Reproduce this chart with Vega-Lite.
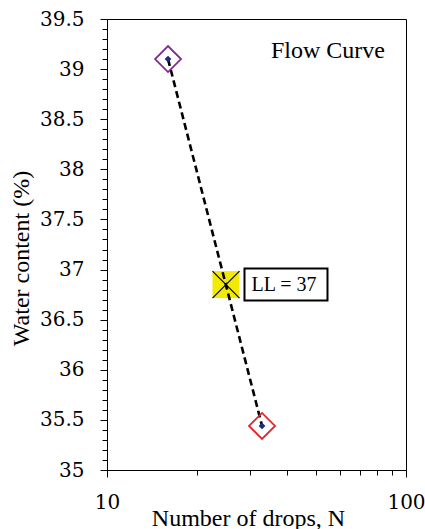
{
  "$schema": "https://vega.github.io/schema/vega-lite/v6.json",
  "width": 299,
  "height": 451,
  "autosize": {"type": "none"},
  "padding": {"left": 107, "top": 19, "right": 19, "bottom": 59},
  "background": "white",
  "config": {
    "view": {"stroke": "#000", "strokeWidth": 1},
    "axis": {
      "domainColor": "#000", "tickColor": "#000", "titleColor": "#000", "labelColor": "#000",
      "grid": false, "titleFontWeight": "normal",
      "labelFlush": false, "labelOverlap": false, "labelBound": false
    }
  },
  "datasets": {
    "tests": [
      {"N": 16, "w": 39.1, "test": "Test 1"},
      {"N": 33, "w": 35.44, "test": "Test 2"}
    ],
    "ll": [
      {"N": 25, "w": 36.85, "label": "LL = 37"}
    ]
  },
  "resolve": {"axis": {"x": "independent", "y": "independent"}},
  "layer": [
    {
      "data": {"name": "ll"},
      "mark": {"type": "point", "shape": "square", "filled": true, "size": 729, "color": "#f2ea00", "opacity": 1},
      "encoding": {
        "x": {"field": "N", "type": "quantitative", "scale": {"type": "log", "domain": [10, 100], "nice": false},
          "axis": {"orient": "bottom", "values": [10, 100], "format": "~g", "tickSize": 7, "labelPadding": 15,
            "labelFont": "DejaVu Serif", "labelFontSize": 20, "titleFont": "Liberation Serif", "titleFontSize": 24,
            "title": "Number of drops, N", "titleBaseline": "alphabetic", "titleY": 55, "titleX": 141}},
        "y": {"field": "w", "type": "quantitative", "scale": {"domain": [35, 39.5], "nice": false, "zero": false},
          "axis": {"orient": "left", "values": [35, 35.5, 36, 36.5, 37, 37.5, 38, 38.5, 39, 39.5], "format": "~g",
            "labelFont": "DejaVu Serif", "labelFontSize": 20, "titleFont": "Liberation Serif", "titleFontSize": 24,
            "tickSize": 7, "labelPadding": 16, "title": "Water content (%)", "titleBaseline": "alphabetic",
            "titleAngle": -90, "titleX": -79, "titleY": 239}}
      }
    },
    {
      "data": {"name": "tests"},
      "mark": {"type": "line", "color": "#000", "strokeWidth": 2.6, "strokeDash": [7, 4]},
      "encoding": {
        "x": {"field": "N", "type": "quantitative", "scale": {"type": "log", "domain": [10, 100], "nice": false},
          "axis": {"orient": "bottom", "values": [20, 30, 40, 50, 60, 70, 80, 90], "labels": false, "domain": false, "tickSize": 5, "title": null}},
        "y": {"field": "w", "type": "quantitative", "scale": {"domain": [35, 39.5], "nice": false, "zero": false},
          "axis": {"orient": "left", "values": [35.1, 35.2, 35.3, 35.4, 35.6, 35.7, 35.8, 35.9, 36.1, 36.2, 36.3, 36.4, 36.6, 36.7, 36.8, 36.9, 37.1, 37.2, 37.3, 37.4, 37.6, 37.7, 37.8, 37.9, 38.1, 38.2, 38.3, 38.4, 38.6, 38.7, 38.8, 38.9, 39.1, 39.2, 39.3, 39.4],
            "labels": false, "domain": false, "tickSize": 5, "title": null}}
      }
    },
    {
      "data": {"name": "ll"},
      "mark": {"type": "point", "shape": "M-1,-1L1,1M-1,1L1,-1", "filled": false, "size": 729, "stroke": "#000", "strokeWidth": 1.2, "opacity": 1},
      "encoding": {
        "x": {"field": "N", "type": "quantitative", "scale": {"type": "log", "domain": [10, 100], "nice": false}, "axis": null},
        "y": {"field": "w", "type": "quantitative", "scale": {"domain": [35, 39.5], "nice": false, "zero": false}, "axis": null}
      }
    },
    {
      "data": {"name": "tests"},
      "mark": {"type": "point", "shape": "diamond", "filled": false, "size": 676, "strokeWidth": 1.8, "opacity": 1},
      "encoding": {
        "x": {"field": "N", "type": "quantitative", "scale": {"type": "log", "domain": [10, 100], "nice": false}, "axis": null},
        "y": {"field": "w", "type": "quantitative", "scale": {"domain": [35, 39.5], "nice": false, "zero": false}, "axis": null},
        "color": {"field": "test", "type": "nominal", "scale": {"domain": ["Test 1", "Test 2"], "range": ["#7d2a8c", "#e4262c"]}, "legend": null}
      }
    },
    {
      "data": {"name": "tests"},
      "mark": {"type": "point", "shape": "diamond", "filled": true, "size": 45, "color": "#1f2a7a", "opacity": 1},
      "encoding": {
        "x": {"field": "N", "type": "quantitative", "scale": {"type": "log", "domain": [10, 100], "nice": false}, "axis": null},
        "y": {"field": "w", "type": "quantitative", "scale": {"domain": [35, 39.5], "nice": false, "zero": false}, "axis": null}
      }
    },
    {
      "data": {"name": "ll"},
      "mark": {"type": "point", "shape": "M0.446,-0.386H2.446V0.386H0.446Z", "filled": true, "size": 6889, "fill": "#fff", "stroke": "#000", "strokeWidth": 2, "opacity": 1},
      "encoding": {
        "x": {"field": "N", "type": "quantitative", "scale": {"type": "log", "domain": [10, 100], "nice": false}, "axis": null},
        "y": {"field": "w", "type": "quantitative", "scale": {"domain": [35, 39.5], "nice": false, "zero": false}, "axis": null}
      }
    },
    {
      "data": {"name": "ll"},
      "mark": {"type": "text", "dx": 58, "align": "center", "baseline": "middle", "fontSize": 20, "font": "Liberation Serif", "color": "#000"},
      "encoding": {
        "x": {"field": "N", "type": "quantitative", "scale": {"type": "log", "domain": [10, 100], "nice": false}, "axis": null},
        "y": {"field": "w", "type": "quantitative", "scale": {"domain": [35, 39.5], "nice": false, "zero": false}, "axis": null},
        "text": {"field": "label", "type": "nominal"}
      }
    },
    {
      "data": {"values": [{"note": "Flow Curve"}]},
      "mark": {"type": "text", "align": "right", "baseline": "alphabetic", "fontSize": 24, "font": "Liberation Serif", "color": "#000"},
      "encoding": {
        "x": {"datum": 85, "type": "quantitative", "scale": {"type": "log", "domain": [10, 100], "nice": false}, "axis": null},
        "y": {"datum": 39.11, "type": "quantitative", "scale": {"domain": [35, 39.5], "nice": false, "zero": false}, "axis": null},
        "text": {"field": "note", "type": "nominal"}
      }
    }
  ]
}
